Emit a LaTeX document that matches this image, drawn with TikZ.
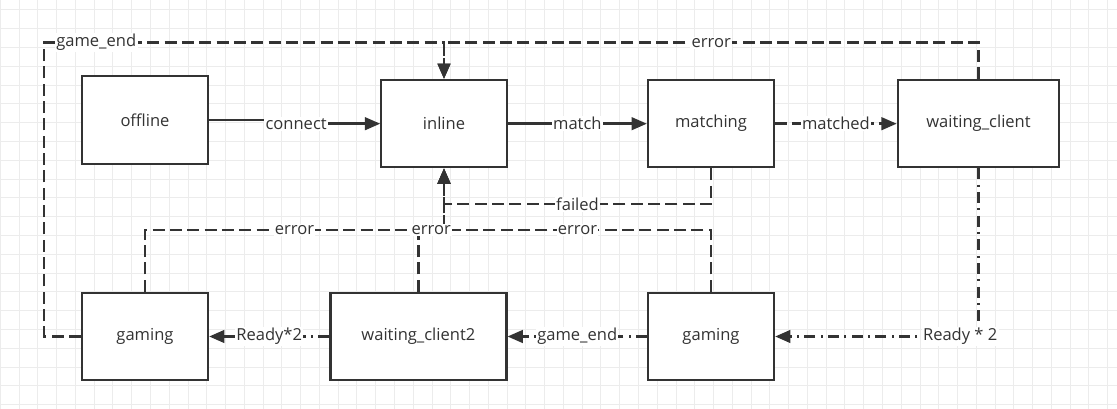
\documentclass[tikz,border=0pt]{standalone}
\usepackage{fontspec}
\setmainfont{Open Sans}
\usetikzlibrary{arrows.meta}

\definecolor{linecolor}{RGB}{51,51,51}
\definecolor{gridcolor}{RGB}{236,236,236}

\tikzset{
  state/.style={draw=linecolor, line width=1.7pt, fill=white, text=linecolor,
    minimum height=65.5pt, inner sep=0pt},
  trans/.style={draw=linecolor, line width=1.8pt, -{Triangle[length=11.5pt,width=9.5pt]}},
  dashedge/.style={dash pattern=on 9pt off 4pt},
  dotedge/.style={dash pattern=on 8.25pt off 4pt on 1.5pt off 4pt},
  lbl/.style={fill=white, text=linecolor, inner sep=1pt}
}

\begin{document}
\begin{tikzpicture}[x=0.75pt, y=-0.75pt, font=\fontsize{12.4}{15}\selectfont]
      % Background and grid
      \fill[white] (0,0) rectangle (1117,409);
      \useasboundingbox (0,0) rectangle (1117,409);
      \foreach \i in {0,...,59} {
        \pgfmathsetmacro{\x}{0.3 + 18.77*\i}
        \draw[gridcolor, line width=0.75pt] (\x,0) -- (\x,409);
      }
      \foreach \j in {0,...,21} {
        \pgfmathsetmacro{\y}{10 + 18.8*\j}
        \draw[gridcolor, line width=0.75pt] (0,\y) -- (1117,\y);
      }

      % States
      \node[state, minimum width=94.5pt] (offline) at (145,120) {offline};
      \node[state, minimum width=94pt] (inline) at (444,123.7) {inline};
      \node[state, minimum width=94.5pt] (matching) at (711,123.7) {matching};
      \node[state, minimum width=121pt] (waitclient) at (978.5,123.7) {waiting\_client};
      \node[state, minimum width=94.5pt] (gamingL) at (145,336.5) {gaming};
      \node[state, minimum width=132pt] (waitclient2) at (418.4,336.5) {waiting\_client2};
      \node[state, minimum width=94.5pt] (gamingR) at (711,336.5) {gaming};

      % Bend points of the return edges
      \coordinate (topbus) at (444,42.7);
      \coordinate (failbus) at (444,204.3);
      \coordinate (lowbus) at (444,230);

      % Main flow
      \draw[trans] (offline.east) -- ++(87,0) |- node[lbl,pos=0.5]{connect} (inline.west);
      \draw[trans] (inline.east) -- node[lbl]{match} (matching.west);
      \draw[trans,dashedge] (matching.east) -- node[lbl]{matched} (waitclient.west);

      % Back to inline from above
      \draw[trans,dashedge] (waitclient.north) |- node[lbl,pos=0.75]{error} (topbus) -- (inline.north);
      \draw[trans,dashedge] (gamingL.west) -- ++(-36.6,0) |- node[lbl,pos=0.565]{game\_end} (topbus) -- (inline.north);

      % Back to inline from below
      \draw[trans,dashedge] (matching.south) |- node[lbl,pos=0.75]{failed} (failbus) -- (inline.south);
      \draw[trans,dashedge] (gamingL.north) |- node[lbl,pos=0.75]{error} (lowbus) -- (inline.south);
      \draw[trans,dashedge] (gamingR.north) |- node[lbl,pos=0.75]{error} (lowbus) -- (inline.south);
      \draw[trans,dashedge] (waitclient2.north) |- node[lbl,pos=0.75]{error} (lowbus) -- (inline.south);

      % Game start
      \draw[trans,dotedge] (waitclient.south) |- node[lbl,pos=0.545]{Ready * 2} (gamingR.east);
      \draw[trans,dotedge] (gamingR.west) -- node[lbl]{game\_end} (waitclient2.east);
      \draw[trans,dotedge] (waitclient2.west) -- node[lbl]{Ready*2} (gamingL.east);
    \end{tikzpicture}
\end{document}
